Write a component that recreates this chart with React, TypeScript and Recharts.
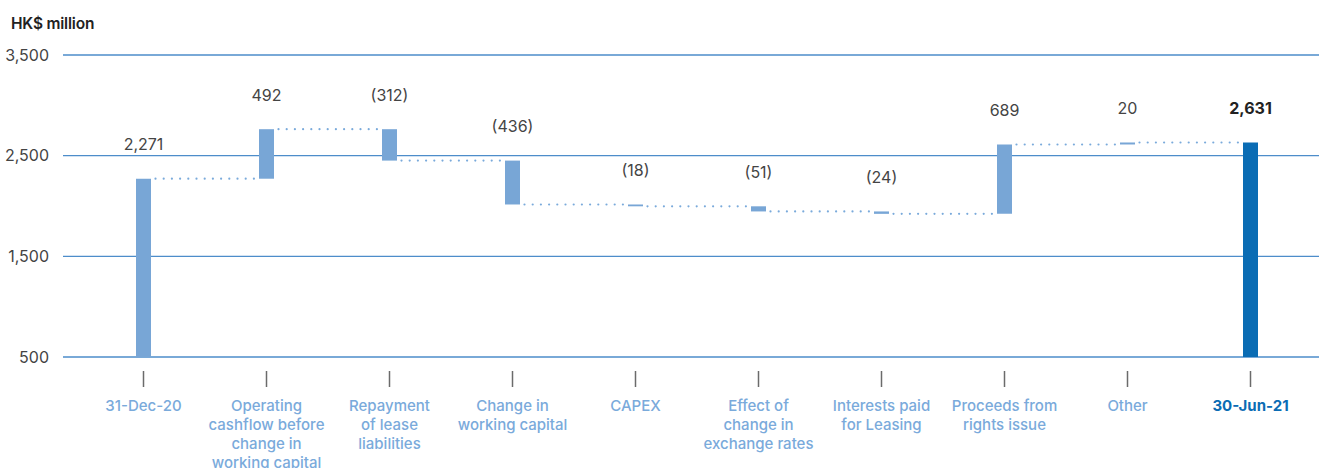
import React from 'react';
import { ComposedChart, Bar, XAxis, YAxis, CartesianGrid, ReferenceLine, LabelList, Cell } from 'recharts';

const categories: string[] = [
  '31-Dec-20',
  'Operating\ncashflow before\nchange in\nworking capital',
  'Repayment\nof lease\nliabilities',
  'Change in\nworking capital',
  'CAPEX',
  'Effect of\nchange in\nexchange rates',
  'Interests paid\nfor Leasing',
  'Proceeds from\nrights issue',
  'Other',
  '30-Jun-21',
];
const openingBalance = 2271;
const movements: number[] = [492, -312, -436, -18, -51, -24, 689, 20];
const closingBalance = 2631;
const yTicks: number[] = [500, 1500, 2500, 3500];

type Row = { name: string; range: [number, number]; delta: number; level: number; total: boolean };

const buildData = (): Row[] => {
  const rows: Row[] = [];
  rows.push({ name: categories[0], range: [0, openingBalance], delta: openingBalance, level: openingBalance, total: true });
  let level = openingBalance;
  movements.forEach((m, i) => {
    const next = level + m;
    rows.push({ name: categories[i + 1], range: [Math.min(level, next), Math.max(level, next)], delta: m, level: next, total: false });
    level = next;
  });
  rows.push({ name: categories[categories.length - 1], range: [0, closingBalance], delta: closingBalance, level: closingBalance, total: true });
  return rows;
};
const data = buildData();

const LIGHT = '#78a6d6';
const DARK = '#0a6cb4';
const LABEL_LIGHT = '#7aaadb';

const fmt = (v: number) => {
  const s = Math.abs(v).toLocaleString('en-US');
  return v < 0 ? `(${s})` : s;
};

const XTick = (props: any) => {
  const { x, y, payload, index } = props;
  const lines = String(payload.value).split('\n');
  const last = index === categories.length - 1;
  return (
    <g transform={`translate(${x},${y})`}>
      <line x1={0} x2={0} y1={14} y2={30} stroke="#6b6b6b" strokeWidth={1.5} />
      <text textAnchor="middle" fill={last ? DARK : LABEL_LIGHT} fontSize={15} fontWeight={last ? 700 : 500}>
        {lines.map((l, i) => (
          <tspan key={i} x={0} y={54 + i * 19}>{l}</tspan>
        ))}
      </text>
    </g>
  );
};

const ValueLabel = (props: any) => {
  const { x, y, width, index } = props;
  const row = data[index];
  const last = index === data.length - 1;
  return (
    <text
      x={x + width / 2}
      y={y - 34}
      dy="0.36em"
      textAnchor="middle"
      fill={last ? '#222' : '#444'}
      fontSize={16}
      fontWeight={last ? 700 : 400}
    >
      {fmt(row.delta)}
    </text>
  );
};

const Connector = (props: any) => {
  const { x1, x2, y1 } = props;
  if (x1 == null || x2 == null || y1 == null) return <g />;
  return (
    <line
      x1={x1 + 12}
      x2={x2 - 11}
      y1={y1}
      y2={y1}
      stroke={LABEL_LIGHT}
      strokeWidth={2.2}
      strokeDasharray="0 8.2"
      strokeLinecap="round"
    />
  );
};

export default function App() {
  return (
    <div style={{ position: 'relative', width: 1319, height: 468, fontFamily: 'Inter, "Noto Sans", sans-serif' }}>
      <style>{'body{margin:0;}'}</style>
      <div
        style={{
          position: 'absolute',
          left: 11,
          top: 14,
          fontSize: 15.5,
          fontWeight: 600,
          color: '#222',
          lineHeight: '20px',
          letterSpacing: '-0.2px',
        }}
      >
        HK$ million
      </div>
      <ComposedChart width={1319} height={468} data={data} margin={{ top: 55, right: 0, bottom: 0, left: 0 }}>
        <CartesianGrid vertical={false} stroke="#4d8dca" strokeWidth={1.4} />
        <YAxis
          domain={[500, 3500]}
          ticks={yTicks}
          allowDataOverflow
          axisLine={false}
          tickLine={false}
          width={63}
          tickMargin={8}
          tick={{ fill: '#444', fontSize: 16 }}
          tickFormatter={(v: number) => v.toLocaleString('en-US')}
        />
        <XAxis
          dataKey="name"
          interval={0}
          axisLine={false}
          tickLine={false}
          tickSize={0}
          tickMargin={0}
          height={111}
          padding={{ left: 19, right: 7 }}
          tick={<XTick />}
        />
        {data.slice(0, -1).map((row, i) => (
          <ReferenceLine
            key={`c${i}`}
            segment={[
              { x: row.name, y: row.level },
              { x: data[i + 1].name, y: row.level },
            ]}
            shape={<Connector />}
            ifOverflow="extendDomain"
          />
        ))}
        <Bar dataKey="range" barSize={15} isAnimationActive={false}>
          {data.map((row, i) => (
            <Cell key={i} fill={i === data.length - 1 ? DARK : LIGHT} />
          ))}
          <LabelList dataKey="delta" content={<ValueLabel />} />
        </Bar>
      </ComposedChart>
    </div>
  );
}
